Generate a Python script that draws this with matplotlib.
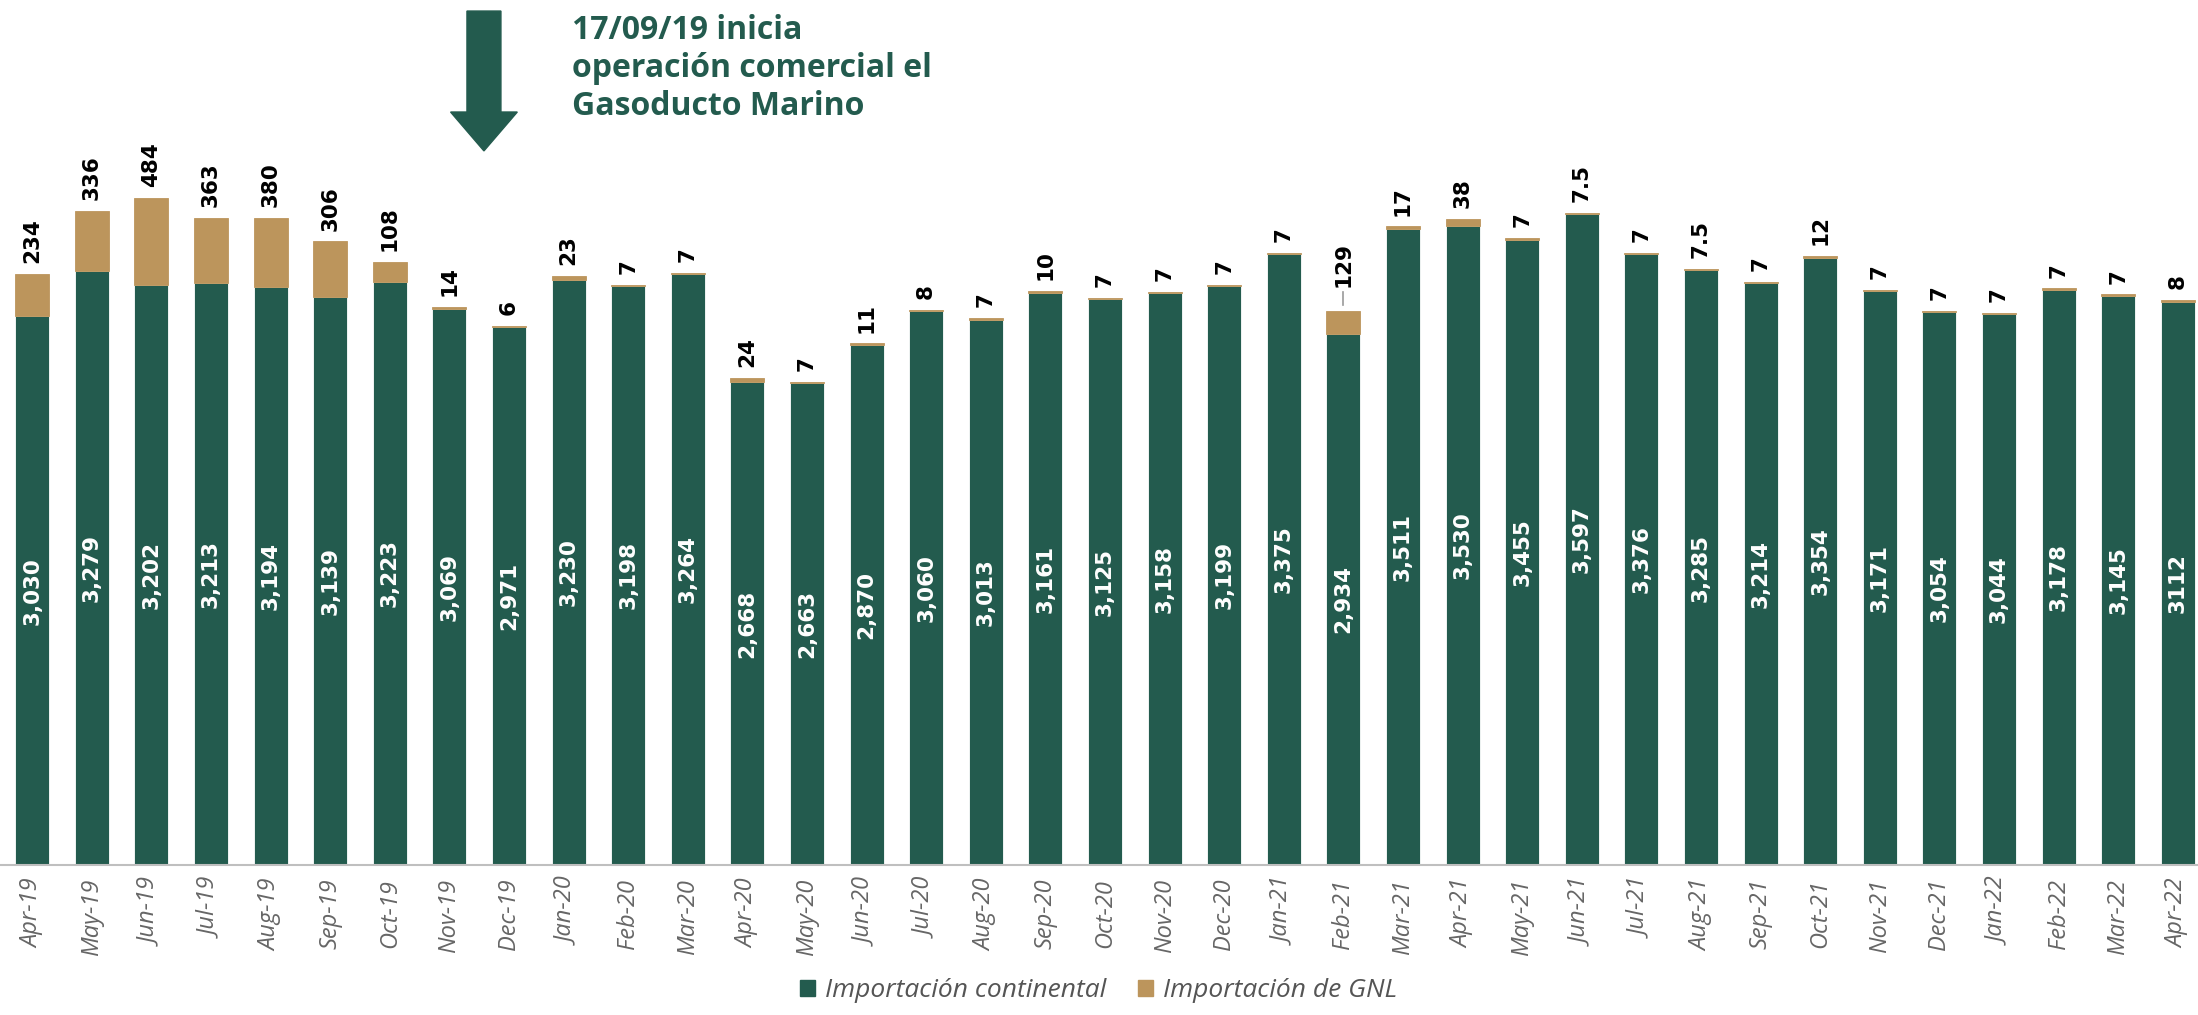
import matplotlib.pyplot as plt
from matplotlib.patches import FancyArrow

# monthly imports (MMpcd)
months = ['Apr-19', 'May-19', 'Jun-19', 'Jul-19', 'Aug-19', 'Sep-19', 'Oct-19', 'Nov-19', 'Dec-19',
          'Jan-20', 'Feb-20', 'Mar-20', 'Apr-20', 'May-20', 'Jun-20', 'Jul-20', 'Aug-20', 'Sep-20',
          'Oct-20', 'Nov-20', 'Dec-20', 'Jan-21', 'Feb-21', 'Mar-21', 'Apr-21', 'May-21', 'Jun-21',
          'Jul-21', 'Aug-21', 'Sep-21', 'Oct-21', 'Nov-21', 'Dec-21', 'Jan-22', 'Feb-22', 'Mar-22',
          'Apr-22']
continental = [3030, 3279, 3202, 3213, 3194, 3139, 3223, 3069, 2971,
               3230, 3198, 3264, 2668, 2663, 2870, 3060, 3013, 3161,
               3125, 3158, 3199, 3375, 2934, 3511, 3530, 3455, 3597,
               3376, 3285, 3214, 3354, 3171, 3054, 3044, 3178, 3145,
               3112]
gnl = [234, 336, 484, 363, 380, 306, 108, 14, 6,
       23, 7, 7, 24, 7, 11, 8, 7, 10,
       7, 7, 7, 7, 129, 17, 38, 7, 7.5,
       7, 7.5, 7, 12, 7, 7, 7, 7, 7,
       8]

green = '#235B4E'
tan = '#BC955C'

fig = plt.figure(figsize=(21.98, 10.15), dpi=100)
ax = fig.add_axes([0, 0.148, 1, 0.852])

x = list(range(len(months)))
ax.bar(x, continental, width=0.57, color=green, edgecolor='white', linewidth=0.6)
ax.bar(x, gnl, bottom=continental, width=0.57, color=tan, edgecolor=tan, linewidth=0.6)

for i in x:
    c = continental[i]
    g = gnl[i]
    lab = f"{c:,}" if i < len(x) - 1 else str(c)
    ax.text(i, c / 2, lab, rotation=90, ha='center', va='center',
            color='white', fontsize=15.5, fontweight='bold')
    top = c + g
    if months[i] == 'Feb-21':
        # label with leader line
        ax.plot([i, i], [top + 30, top + 100], color='#999999', lw=1.2)
        ax.text(i, top + 130, f"{g:g}", rotation=90, ha='center', va='bottom',
                color='black', fontsize=15.5, fontweight='bold')
    else:
        ax.text(i, top + 60, f"{g:g}", rotation=90, ha='center', va='bottom',
                color='black', fontsize=15.5, fontweight='bold')

ax.set_xlim(-0.54, 36.34)
ax.set_ylim(0, 4779)
ax.set_xticks(x)
ax.set_xticklabels(months, rotation=90, fontsize=17, style='italic', color='#666666',
                   fontfamily='Open Sans')
ax.tick_params(axis='x', length=0, pad=10)
ax.set_yticks([])
for s in ['top', 'left', 'right']:
    ax.spines[s].set_visible(False)
ax.spines['bottom'].set_color('#bfbfbf')
ax.spines['bottom'].set_linewidth(1.5)

# annotation arrow and text
arrow = FancyArrow(7.58, 4718, 0, 3945 - 4718, width=0.57,
                   head_width=1.12, head_length=215, length_includes_head=True,
                   color=green, clip_on=False)
ax.add_patch(arrow)
fig.text(572 / 2198, 1 - 14 / 1015, '17/09/19 inicia\noperación comercial el\nGasoducto Marino',
         ha='left', va='top', color=green, fontsize=23, fontweight='bold',
         fontfamily='Open Sans', linespacing=1.2)

# legend at the bottom
hs = [plt.Rectangle((0, 0), 1, 1, color=green), plt.Rectangle((0, 0), 1, 1, color=tan)]
fig.legend(hs, ['Importación continental', 'Importación de GNL'], loc='lower center',
           bbox_to_anchor=(0.5, -0.012), ncol=2, frameon=False, handlelength=0.55,
           handleheight=0.55, handletextpad=0.4, columnspacing=1.2,
           prop={'family': 'Open Sans', 'style': 'italic', 'size': 19}, labelcolor='#555555')

fig.savefig('out.png', dpi=100)
